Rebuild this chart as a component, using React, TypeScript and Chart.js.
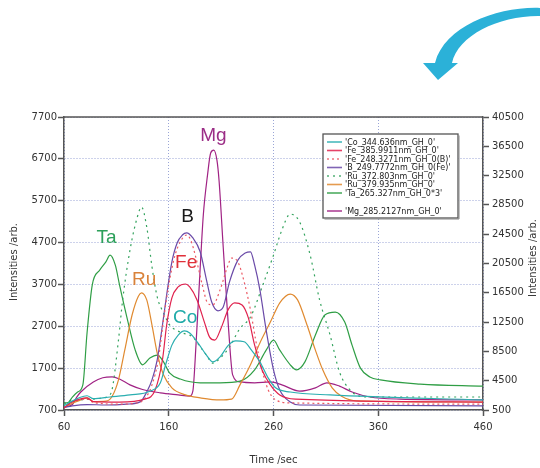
import React, { useEffect, useRef } from "react";
import { Chart, registerables } from "chart.js";

Chart.register(...registerables);

// ---------- data (time /sec, intensity /arb. on left axis) ----------
const xTicks = [60, 160, 260, 360, 460];
const leftTicks = [700, 1700, 2700, 3700, 4700, 5700, 6700, 7700];
const rightTicks = [500, 4500, 8500, 12500, 16500, 20500, 24500, 28500, 32500, 36500, 40500];

const seriesLabels = [
  "'Co_344.636nm_GH_0'",
  "'Fe_385.9911nm_GH_0'",
  "'Fe_248.3271nm_GH_0(B)'",
  "'B_249.7772nm_GH_0(Fe)'",
  "'Ru_372.803nm_GH_0'",
  "'Ru_379.935nm_GH_0'",
  "'Ta_265.327nm_GH_0*3'",
  "'Mg_285.2127nm_GH_0'",
];

const co344 = [[60,800],[66,890],[75,1000],[82,1040],[88,970],[104,1010],[123,1060],[142,1150],[152,1350],[157,1780],[163,2250],[169,2490],[175,2590],[180,2540],[188,2300],[196,2010],[202,1850],[209,1970],[217,2250],[224,2350],[232,2330],[239,2130],[247,1850],[255,1460],[262,1230],[276,1130],[314,1060],[460,940]];
const fe385 = [[60,750],[66,870],[75,960],[82,990],[88,900],[113,890],[137,960],[147,1180],[154,1900],[158,2730],[163,3380],[169,3640],[176,3710],[180,3640],[187,3330],[194,2800],[199,2440],[204,2370],[210,2660],[217,3110],[223,3260],[230,3210],[236,2900],[242,2250],[249,1660],[257,1300],[266,1060],[281,960],[460,890]];
const fe248 = [[60,750],[66,870],[75,940],[82,960],[88,880],[113,840],[133,890],[139,1030],[144,1300],[150,1900],[155,2850],[160,3690],[166,4400],[172,4760],[177,4880],[181,4760],[186,4330],[192,3690],[197,3260],[202,3210],[209,3570],[216,4120],[220,4330],[226,4240],[232,3760],[238,3090],[243,2370],[249,1660],[255,1180],[261,960],[276,870],[460,840]];
const b249 = [[60,760],[68,800],[82,830],[100,820],[120,840],[133,900],[139,1130],[144,1420],[149,1900],[154,2730],[158,3450],[163,4240],[168,4690],[173,4880],[177,4930],[183,4810],[190,4480],[196,3810],[201,3280],[207,3070],[212,3160],[218,3760],[226,4280],[233,4450],[238,4480],[242,4160],[247,3570],[253,2610],[260,1660],[266,1180],[276,890],[285,820],[460,800]];
const ru372 = [[60,840],[66,920],[80,950],[95,980],[102,1030],[106,1200],[112,2370],[116,3330],[123,4520],[130,5310],[134,5550],[139,5070],[144,4120],[149,3400],[155,3020],[161,2730],[171,2560],[183,2440],[190,2210],[196,2010],[202,1820],[210,1960],[218,2210],[228,2650],[238,2920],[250,3700],[260,4400],[268,5000],[276,5380],[285,5190],[295,4400],[304,3330],[314,2490],[323,1610],[333,1180],[347,1010],[460,1010]];
const ru379 = [[60,750],[67,850],[75,930],[82,990],[88,900],[100,910],[106,1030],[112,1420],[118,2130],[125,2970],[131,3420],[134,3500],[139,3330],[144,2730],[149,2060],[155,1540],[163,1230],[176,1060],[190,990],[209,940],[220,960],[228,1300],[238,1780],[247,2300],[257,2800],[266,3260],[276,3470],[283,3330],[292,2730],[300,2130],[307,1660],[316,1230],[325,1030],[340,920],[460,890]];
const ta265 = [[60,870],[64,880],[68,1010],[73,1130],[78,1300],[82,2540],[87,3690],[94,4040],[100,4240],[104,4400],[109,4160],[113,3690],[120,2920],[128,2130],[135,1780],[142,1940],[149,2010],[155,1850],[161,1580],[171,1440],[190,1350],[209,1350],[228,1390],[242,1660],[253,2130],[260,2370],[266,2130],[276,1780],[282,1660],[290,1850],[300,2490],[309,2970],[319,3040],[328,2800],[335,2250],[343,1700],[352,1490],[362,1420],[400,1320],[460,1270]];
const mg285 = [[60,770],[68,830],[72,1000],[76,1130],[88,1370],[97,1470],[106,1490],[113,1440],[123,1300],[135,1190],[152,1110],[169,1060],[180,1030],[183,1150],[186,2250],[190,4090],[193,5360],[197,6310],[200,6840],[203,6910],[206,6670],[208,6190],[212,4590],[217,2680],[221,1540],[228,1370],[242,1350],[257,1370],[268,1300],[285,1150],[300,1230],[311,1350],[323,1270],[335,1130],[352,1010],[381,960],[460,940]];

const seriesData = [co344, fe385, fe248, b249, ru372, ru379, ta265, mg285];

// element labels placed on the plot (data coordinates)
const peakLabels = ["Mg", "B", "Ta", "Fe", "Ru", "Co"];
const peakLabelX = [190, 172, 91, 166, 125, 164];
const peakLabelY = [7127, 5191, 4690, 4092, 3686, 2778];

// ---------- styles ----------
const colors = ["#2aaeb0", "#e0224e", "#ec5a64", "#6a4aa8", "#34a35e", "#e08a30", "#2f9e45", "#a02284"];
const dashes: number[][] = [[], [], [2, 3], [], [2, 4], [], [], []];
const peakColors = ["#9b2d86", "#1a1a1a", "#2ca05a", "#e0303a", "#d9823a", "#1faaa8"];
const AXIS = "#555555";
const FONT = "DejaVu Sans";
const plain = (v: any) => String(v);

const overlay = {
  id: "overlay",
  beforeDraw(chart: any) {
    const ctx = chart.ctx;
    ctx.save();
    ctx.fillStyle = "#ffffff";
    ctx.fillRect(0, 0, chart.width, chart.height);
    ctx.restore();
  },
  afterDraw(chart: any) {
    const { ctx, chartArea: a, scales } = chart;
    ctx.save();
    // top frame line
    ctx.strokeStyle = AXIS;
    ctx.lineWidth = 1.5;
    ctx.beginPath();
    ctx.moveTo(a.left, a.top);
    ctx.lineTo(a.right, a.top);
    ctx.stroke();

    // element labels
    ctx.font = "19px 'Liberation Sans'";
    ctx.textAlign = "left";
    ctx.textBaseline = "alphabetic";
    peakLabels.forEach((t, i) => {
      ctx.fillStyle = peakColors[i];
      ctx.fillText(t, scales.x.getPixelForValue(peakLabelX[i]), scales.y.getPixelForValue(peakLabelY[i]));
    });

    // legend box
    const lx = 323, ly = 134, lw = 135, lh = 84;
    ctx.fillStyle = "#ffffff";
    ctx.fillRect(lx, ly, lw, lh);
    ctx.strokeStyle = "#555";
    ctx.lineWidth = 1.3;
    ctx.strokeRect(lx, ly, lw, lh);
    ctx.strokeStyle = "#888";
    ctx.lineWidth = 1;
    ctx.beginPath();
    ctx.moveTo(lx + 1.5, ly + lh + 1);
    ctx.lineTo(lx + lw + 1, ly + lh + 1);
    ctx.lineTo(lx + lw + 1, ly + 1.5);
    ctx.stroke();
    const rows = [142, 150.5, 159, 167.5, 176, 184.5, 193, 211];
    ctx.font = `8px '${FONT}'`;
    ctx.textBaseline = "middle";
    seriesLabels.forEach((lab, i) => {
      const y = rows[i];
      ctx.strokeStyle = colors[i];
      ctx.globalAlpha = 0.85;
      ctx.lineWidth = 1.6;
      ctx.setLineDash(dashes[i]);
      ctx.beginPath();
      ctx.moveTo(327, y);
      ctx.lineTo(342, y);
      ctx.stroke();
      ctx.setLineDash([]);
      ctx.globalAlpha = 1;
      ctx.fillStyle = "#222";
      ctx.fillText(lab, 345, y + 0.5);
    });

    // axis titles
    ctx.fillStyle = "#333";
    ctx.font = `10px '${FONT}'`;
    ctx.textAlign = "center";
    ctx.textBaseline = "middle";
    ctx.fillText("Time /sec", (a.left + a.right) / 2, 460);
    ctx.save();
    ctx.translate(14, 262);
    ctx.rotate(-Math.PI / 2);
    ctx.fillText("Intensities /arb.", 0, 0);
    ctx.restore();
    ctx.save();
    ctx.translate(533, 258);
    ctx.rotate(-Math.PI / 2);
    ctx.fillText("Intensities /arb.", 0, 0);
    ctx.restore();

    // decorative curved arrow (top right)
    ctx.fillStyle = "#2bb1d8";
    ctx.beginPath();
    ctx.moveTo(541, 8);
    ctx.bezierCurveTo(500, 6, 445, 25, 435, 63);
    ctx.lineTo(423, 63);
    ctx.lineTo(438, 80);
    ctx.lineTo(458, 63);
    ctx.lineTo(452, 63);
    ctx.bezierCurveTo(458, 35, 500, 15, 541, 16);
    ctx.closePath();
    ctx.fill();
    ctx.restore();
  },
};

export default function App() {
  const ref = useRef<HTMLCanvasElement>(null);
  useEffect(() => {
    if (!ref.current) return;
    const chart = new Chart(ref.current, {
      type: "line",
      data: {
        datasets: seriesData.map((d, i) => ({
          label: seriesLabels[i],
          data: d.map(([x, y]) => ({ x, y })),
          borderColor: colors[i],
          backgroundColor: colors[i],
          borderWidth: 1.2,
          borderDash: dashes[i],
          pointRadius: 0,
          fill: false,
          cubicInterpolationMode: "monotone" as const,
          yAxisID: "y",
        })),
      },
      options: {
        animation: false,
        responsive: false,
        devicePixelRatio: 1,
        layout: { padding: { top: 117, left: 0, right: 0, bottom: 0 } },
        plugins: { legend: { display: false }, tooltip: { enabled: false }, title: { display: false } },
        scales: {
          x: {
            type: "linear",
            min: 60,
            max: 460,
            afterBuildTicks: (s: any) => { s.ticks = xTicks.map((v) => ({ value: v })); },
            afterFit: (s: any) => { s.height = 58; },
            ticks: { color: "#333", font: { family: FONT, size: 10 }, padding: 5, maxRotation: 0, autoSkip: false, callback: plain },
            grid: { color: "#9aa5d6", lineWidth: 1, tickColor: AXIS, tickLength: 6, tickWidth: 1.5 },
            border: { color: AXIS, width: 1.5, dash: [1, 2] },
          },
          y: {
            type: "linear",
            position: "left",
            min: 700,
            max: 7700,
            afterBuildTicks: (s: any) => { s.ticks = leftTicks.map((v) => ({ value: v })); },
            afterFit: (s: any) => { s.width = 64; },
            ticks: { color: "#333", font: { family: FONT, size: 10 }, padding: 1, autoSkip: false, callback: plain },
            grid: { color: "#9aa5d6", lineWidth: 1, tickColor: AXIS, tickLength: 6, tickWidth: 1.5 },
            border: { color: AXIS, width: 1.5, dash: [1, 2] },
          },
          y1: {
            type: "linear",
            position: "right",
            min: 500,
            max: 40500,
            afterBuildTicks: (s: any) => { s.ticks = rightTicks.map((v) => ({ value: v })); },
            afterFit: (s: any) => { s.width = 57; },
            ticks: { color: "#333", font: { family: FONT, size: 10 }, padding: 3, autoSkip: false, callback: plain },
            grid: { drawOnChartArea: false, tickColor: AXIS, tickLength: 6, tickWidth: 1.5 },
            border: { color: AXIS, width: 1.5 },
          },
        },
      },
      plugins: [overlay],
    } as any);
    return () => chart.destroy();
  }, []);
  return (
    <div style={{ position: "absolute", left: 0, top: 0, width: 540, height: 468, background: "#fff" }}>
      <canvas ref={ref} width={540} height={468} style={{ width: 540, height: 468, display: "block" }} />
    </div>
  );
}
